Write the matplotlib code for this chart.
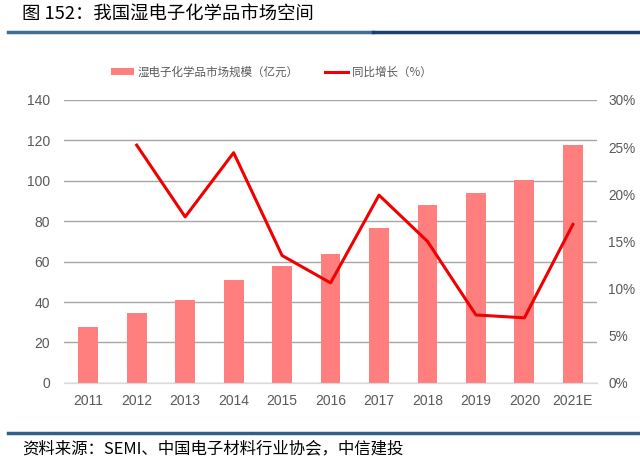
import matplotlib.pyplot as plt
from matplotlib.lines import Line2D
from matplotlib.patches import Patch
import numpy as np

plt.rcParams['font.family'] = ['Liberation Sans', 'Noto Sans CJK SC', 'DejaVu Sans']

years = ['2011', '2012', '2013', '2014', '2015', '2016', '2017', '2018', '2019', '2020', '2021E']
market_size = [27.6, 34.8, 40.9, 50.8, 57.9, 63.9, 76.6, 88.0, 94.0, 100.6, 117.8]
# growth rate in %, 2011 has no value
growth = [np.nan, 25.2, 17.6, 24.4, 13.5, 10.6, 19.9, 15.0, 7.2, 6.9, 16.8]

bar_color = '#FF7F7F'
line_color = '#F00000'
tick_color = '#595959'

fig = plt.figure(figsize=(6.4, 4.71), dpi=100)
ax = fig.add_axes([0.1, 0.187, 0.833, 0.601])
ax2 = ax.twinx()

x = np.arange(len(years))
ax.bar(x, market_size, width=0.41, color=bar_color, zorder=3)
ax2.plot(x, growth, color=line_color, linewidth=2.2, zorder=4)

ax.set_xlim(-0.5, len(years) - 0.5)
ax.set_ylim(0, 140)
ax.set_yticks(np.arange(0, 141, 20))
ax2.set_ylim(0, 30)
ax2.set_yticks(np.arange(0, 31, 5))
ax2.set_yticklabels([str(v) + '%' for v in range(0, 31, 5)])
ax.set_xticks(x)
ax.set_xticklabels(years)

ax.yaxis.grid(True, color='#A6A6A6', linewidth=1.0, zorder=0)
ax.set_axisbelow(True)
for a in (ax, ax2):
    for side in ['top', 'left', 'right']:
        a.spines[side].set_visible(False)
    a.spines['bottom'].set_color('#D9D9D9')
    a.tick_params(length=0, labelsize=10, colors=tick_color)
ax.tick_params(axis='y', pad=10)
ax.tick_params(axis='x', pad=8)
ax2.tick_params(axis='y', pad=8, labelsize=9.8)
ax.set_zorder(ax2.get_zorder() - 1)
ax2.patch.set_visible(False)

handles = [Patch(facecolor=bar_color, edgecolor='none'),
           Line2D([0], [0], color=line_color, linewidth=2.2)]
labels = ['湿电子化学品市场规模（亿元）', '同比增长（%）']
fig.legend(handles, labels, loc='center', bbox_to_anchor=(0.424, 0.847), ncol=2,
           frameon=False, labelcolor=tick_color, handlelength=2.0,
           handleheight=0.6, columnspacing=2.3, handletextpad=0.3,
           prop={'family': ['Noto Sans CJK SC', 'DejaVu Sans'], 'size': 8.3})

# title and decorative rules
fig.text(0.034, 0.968, '图 152：我国湿电子化学品市场空间', fontsize=13.2, va='center', ha='left',
         family=['Noto Sans CJK SC', 'DejaVu Sans'], color='#000000')
fig.add_artist(Line2D([0.0125, 0.583], [0.931, 0.931], color='#3E6E92', linewidth=2.5))
fig.add_artist(Line2D([0.583, 1.0], [0.931, 0.931], color='#1C3F6E', linewidth=2.5))
fig.add_artist(Line2D([0.0125, 1.0], [0.081, 0.081], color='#2F6089', linewidth=2.5))
fig.text(0.034, 0.047, '资料来源：SEMI、中国电子材料行业协会，中信建投', fontsize=11.8,
         va='center', ha='left', style='italic',
         family=['Noto Sans CJK SC', 'DejaVu Sans'], color='#000000')

plt.savefig('out.png', dpi=100)
